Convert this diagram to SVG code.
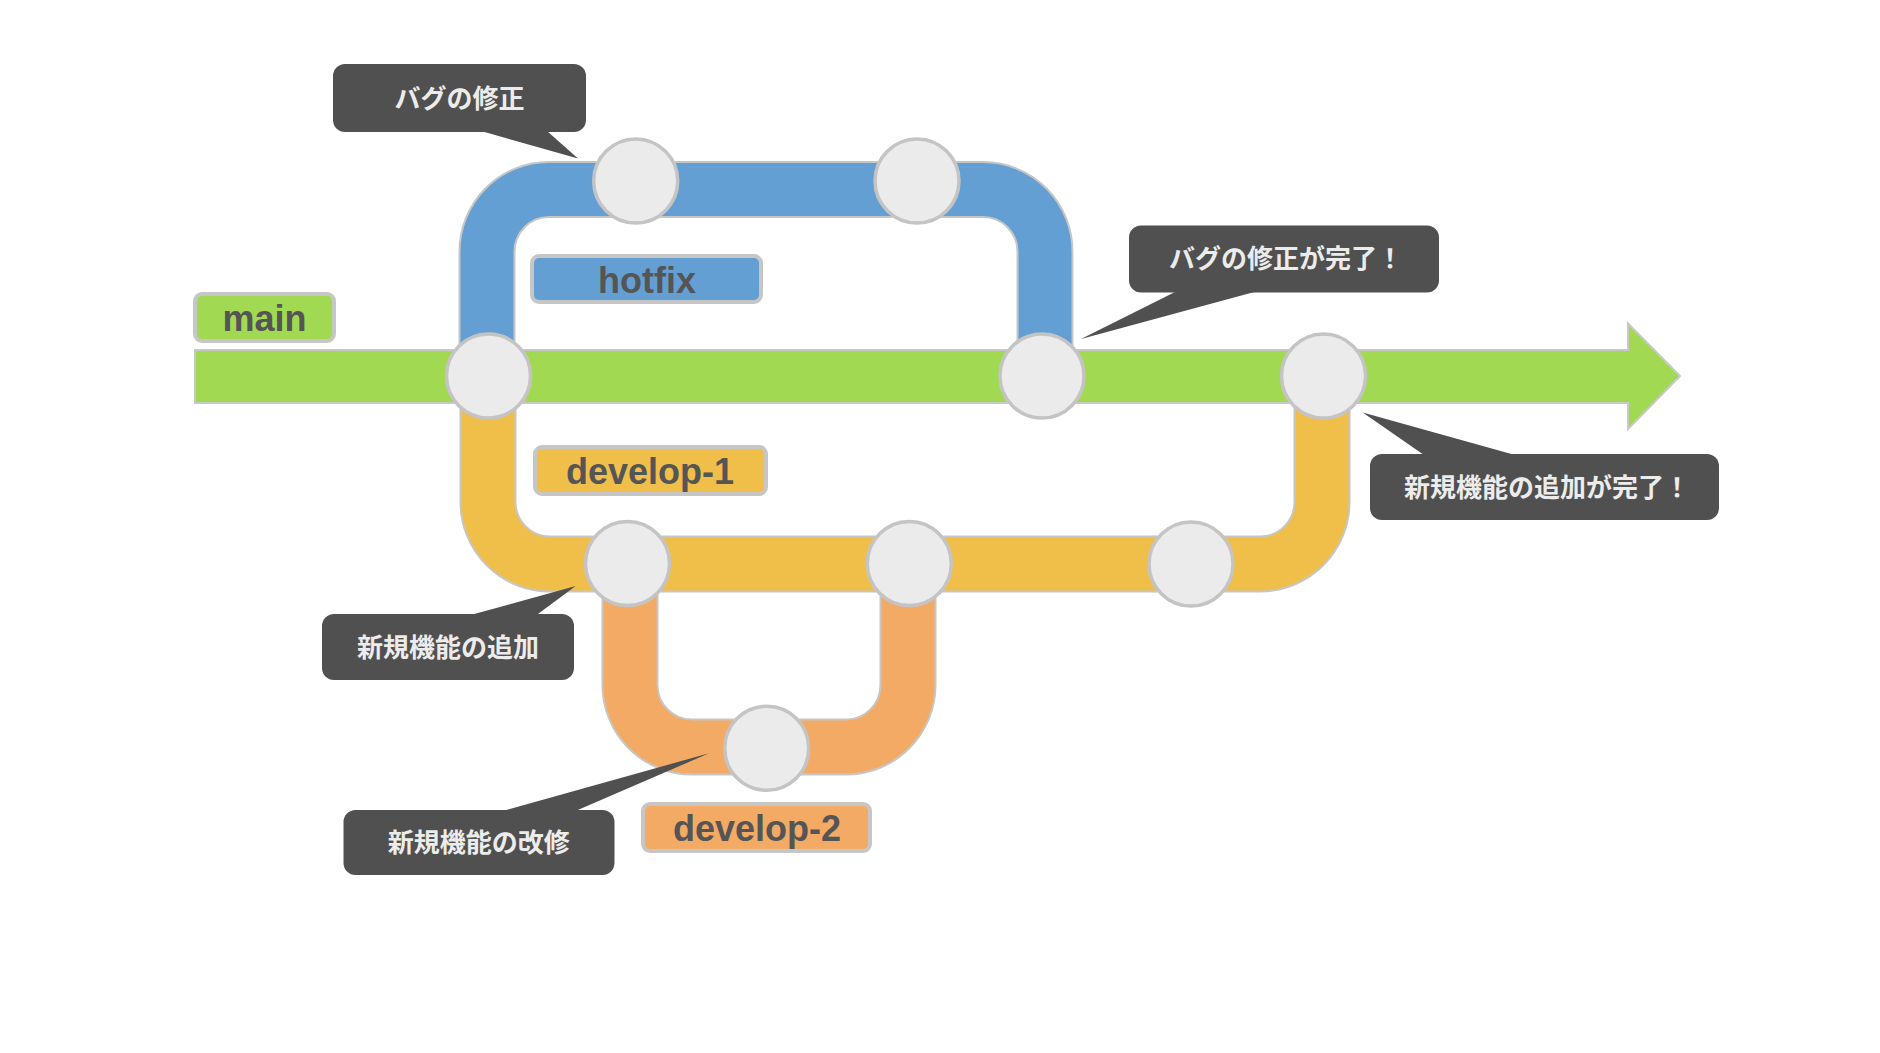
<svg xmlns="http://www.w3.org/2000/svg" width="1880" height="1053" viewBox="0 0 1880 1053">
<style>
.edge{fill:none;stroke:#c6c6c6;stroke-width:57}
.blue{fill:none;stroke:#649fd4;stroke-width:53}
.yellow{fill:none;stroke:#f0bf4a;stroke-width:53}
.orange{fill:none;stroke:#f2aa65;stroke-width:53}
.node{fill:#ebebeb;stroke:#c4c4c4;stroke-width:3.5}
.lbl{stroke:#c6c6c6;stroke-width:4}
.lbltxt{font-family:"Liberation Sans",Arial,sans-serif;font-weight:bold;font-size:36px;fill:#555555;text-anchor:middle}
.call{fill:#505050}
.calltxt{font-family:"Noto Sans CJK JP","Noto Sans",sans-serif;font-weight:bold;font-size:26px;fill:#ececec;text-anchor:middle}
</style>
<rect width="1880" height="1053" fill="#ffffff"/>
<g id="connectors">
  <path class="edge" d="M630,564 V685 A62,62 0 0 0 692,747 H846 A62,62 0 0 0 908,685 V564"/>
  <path class="orange" d="M630,564 V685 A62,62 0 0 0 692,747 H846 A62,62 0 0 0 908,685 V564"/>
  <path class="edge" d="M488,376 V502 A62,62 0 0 0 550,564 H1260 A62,62 0 0 0 1322,502 V376"/>
  <path class="yellow" d="M488,376 V502 A62,62 0 0 0 550,564 H1260 A62,62 0 0 0 1322,502 V376"/>
  <path class="edge" d="M487,376 V252 A62,62 0 0 1 549,189.5 H983 A62,62 0 0 1 1045,252 V376"/>
  <path class="blue" d="M487,376 V252 A62,62 0 0 1 549,189.5 H983 A62,62 0 0 1 1045,252 V376"/>
  <polygon id="main-line" points="195,350 1628,350 1628,323.5 1680,376 1628,429 1628,403 195,403" fill="#a2d952" stroke="#c8c8c8" stroke-width="2"/>
</g>
<g id="label-main"><rect class="lbl" x="195" y="294" width="139" height="47" rx="7" fill="#a2d952"/><text class="lbltxt" x="264.5" y="331">main</text></g>
<g id="label-hotfix"><rect class="lbl" x="532" y="256" width="229" height="46" rx="7" fill="#649fd4"/><text class="lbltxt" x="647" y="293">hotfix</text></g>
<g id="label-develop-1"><rect class="lbl" x="535" y="447" width="231" height="47" rx="7" fill="#f0bf4a"/><text class="lbltxt" x="650" y="484">develop-1</text></g>
<g id="label-develop-2"><rect class="lbl" x="643" y="804" width="227" height="47" rx="7" fill="#f2aa65"/><text class="lbltxt" x="757" y="841">develop-2</text></g>
<g id="node-m1"><circle class="node" cx="488.5" cy="376" r="42"/></g>
<g id="node-m2"><circle class="node" cx="1042" cy="376" r="42"/></g>
<g id="node-m3"><circle class="node" cx="1323.5" cy="376" r="42"/></g>
<g id="node-h1"><circle class="node" cx="635.7" cy="181" r="42"/></g>
<g id="node-h2"><circle class="node" cx="917" cy="181" r="42"/></g>
<g id="node-d1a"><circle class="node" cx="627.5" cy="563.5" r="42"/></g>
<g id="node-d1b"><circle class="node" cx="909.3" cy="563.5" r="42"/></g>
<g id="node-d1c"><circle class="node" cx="1191" cy="564" r="42"/></g>
<g id="node-d2"><circle class="node" cx="766.7" cy="748.3" r="42"/></g>
<g id="callout-bugfix">
  <rect class="call" x="333" y="64" width="253" height="68" rx="12"/>
  <polygon class="call" points="481,131 547,131 578,158.5"/>
  <text class="calltxt" x="459.5" y="108">バグの修正</text>
</g>
<g id="callout-bugfix-done">
  <rect class="call" x="1129" y="225.5" width="310" height="67" rx="12"/>
  <polygon class="call" points="1177,291 1258,291 1081,339"/>
  <text class="calltxt" x="1286" y="268">バグの修正が完了！</text>
</g>
<g id="callout-feature-done">
  <rect class="call" x="1370" y="454" width="349" height="66" rx="12"/>
  <polygon class="call" points="1424,455 1515,455 1362.7,412.4"/>
  <text class="calltxt" x="1547" y="497">新規機能の追加が完了！</text>
</g>
<g id="callout-feature">
  <rect class="call" x="322" y="614" width="252" height="66" rx="12"/>
  <polygon class="call" points="470.6,615 536.6,615 575.7,586"/>
  <text class="calltxt" x="448" y="657">新規機能の追加</text>
</g>
<g id="callout-feature-fix">
  <rect class="call" x="343.5" y="810" width="271" height="65" rx="12"/>
  <polygon class="call" points="502.4,811 575.5,811 709,753.3"/>
  <text class="calltxt" x="478.7" y="852">新規機能の改修</text>
</g>
</svg>
